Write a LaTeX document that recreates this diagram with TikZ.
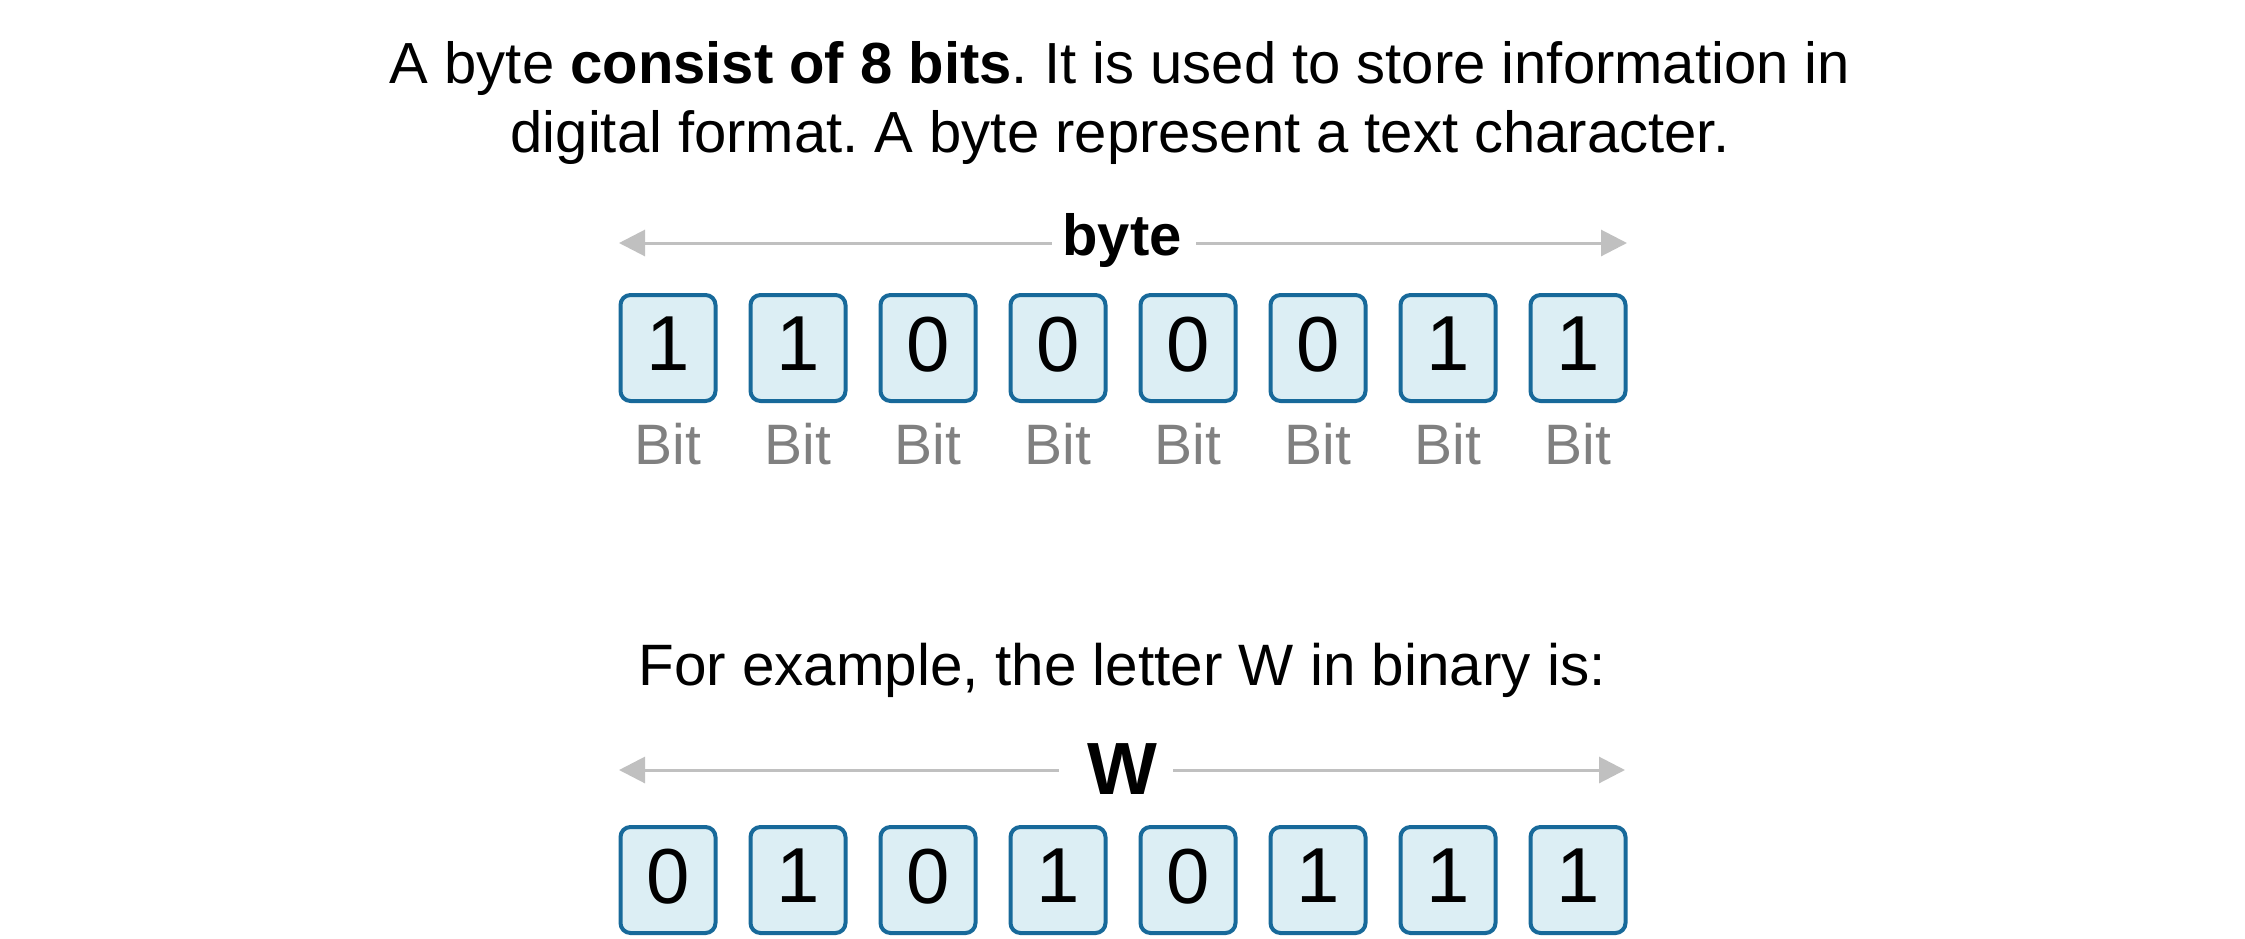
\documentclass[tikz,border=0pt]{standalone}
\usepackage{fontspec}
\setmainfont{Liberation Sans}
\usetikzlibrary{arrows.meta}
\definecolor{boxborder}{HTML}{17699A}
\definecolor{boxfill}{HTML}{DCEEF4}
\definecolor{arrowgray}{HTML}{C0C0C0}
\definecolor{bitgray}{HTML}{808080}
\frenchspacing
\begin{document}
\begin{tikzpicture}[x=0.5pt,y=-0.5pt,
  bitbox/.style={draw=boxborder, fill=boxfill, line width=2pt, rounded corners=5pt,
    minimum width=47.5pt, minimum height=53pt, inner sep=0pt, text depth=4pt,
    font=\fontsize{39}{39}\selectfont},
  bitlabel/.style={text=bitgray, inner sep=0pt, font=\fontsize{28.5}{30}\selectfont},
  span/.style={draw=arrowgray, line width=1.5pt, -{Triangle[length=13pt,width=13pt]}},
  spanlabel/.style={inner sep=0pt},
]
\useasboundingbox (0,0) rectangle (2245,938);

\node[align=center, font=\fontsize{29}{34.5}\selectfont] (title) at (1120,103)
  {A byte \textbf{consist of 8 bits}. It is used to store information in\\
   digital format. A byte represent a text character.};

\coordinate (bl) at (619,243);
\coordinate (br) at (1627,243);
\node[spanlabel, font=\bfseries\fontsize{29}{30}\selectfont] (byte) at (1122,240) {byte};
\draw[span] ([xshift=-5pt]byte.west |- bl) -- (bl);
\draw[span] ([xshift=7pt]byte.east |- br) -- (br);

\foreach \b [count=\i from 0] in {1,1,0,0,0,0,1,1} {
  \node[bitbox] (a\i) at (668+130*\i, 348) {\b};
  \node[bitlabel] (l\i) at (668+130*\i, 444) {Bit};
}

\node[font=\fontsize{29.2}{34}\selectfont] (ex) at (1122,670) {For example, the letter W in binary is:};

\coordinate (wl) at (619,770);
\coordinate (wr) at (1625,770);
\node[spanlabel, font=\bfseries\fontsize{37}{40}\selectfont] (w) at (1122,769) {W};
\draw[span] ([xshift=-14pt]w.west |- wl) -- (wl);
\draw[span] ([xshift=8pt]w.east |- wr) -- (wr);

\foreach \b [count=\i from 0] in {0,1,0,1,0,1,1,1} {
  \node[bitbox] (b\i) at (668+130*\i, 880) {\b};
}
\end{tikzpicture}
\end{document}
